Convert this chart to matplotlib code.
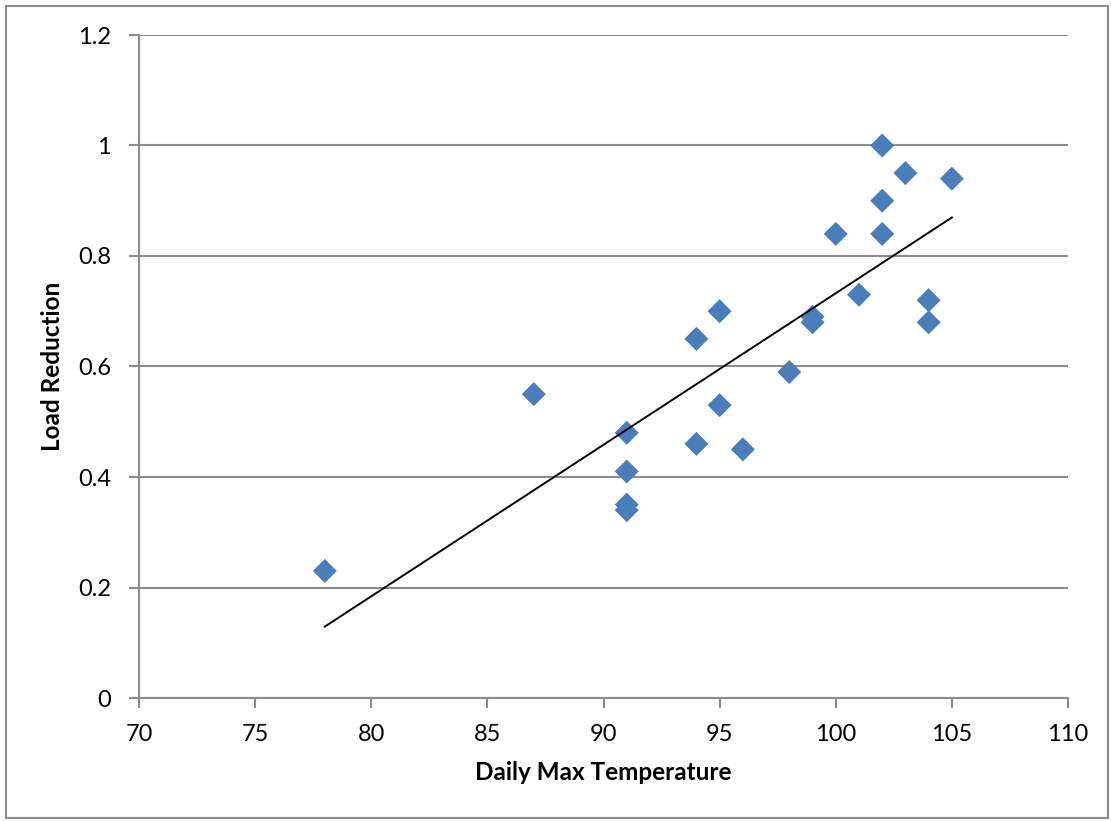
import numpy as np
import matplotlib
matplotlib.use("Agg")
import matplotlib.pyplot as plt
from matplotlib.patches import Rectangle

# values
temperature = [78, 87, 91, 91, 91, 91, 94, 94, 95, 95, 96, 98,
               99, 99, 100, 101, 102, 102, 102, 103, 104, 104, 105]
load_reduction = [0.23, 0.55, 0.48, 0.41, 0.35, 0.34, 0.65, 0.46, 0.70, 0.53, 0.45, 0.59,
                  0.69, 0.68, 0.84, 0.73, 1.00, 0.90, 0.84, 0.95, 0.72, 0.68, 0.94]
x_ticks = [70, 75, 80, 85, 90, 95, 100, 105, 110]
y_ticks = [0, 0.2, 0.4, 0.6, 0.8, 1, 1.2]
y_tick_labels = ["0", "0.2", "0.4", "0.6", "0.8", "1", "1.2"]

plt.rcParams['font.family'] = ['Lato', 'DejaVu Sans']
grid_grey = "#8c8c8c"

fig = plt.figure(figsize=(11.11, 8.21), dpi=100)
ax = fig.add_axes([139 / 1111, 1 - 698 / 821, (1068 - 139) / 1111, (698 - 35) / 821])

# outer chart border
fig.patches.append(Rectangle((6 / 1111, 3 / 821), 1102 / 1111, 812 / 821,
                             transform=fig.transFigure, fill=False,
                             edgecolor="#8c8c8c", linewidth=1.5))

ax.scatter(temperature, load_reduction, marker="D", s=150, color="#4a7ebb",
           edgecolors="none", zorder=3)

# linear trendline
slope, intercept = np.polyfit(temperature, load_reduction, 1)
tx = np.array([min(temperature), max(temperature)])
ax.plot(tx, slope * tx + intercept, color="black", linewidth=1.4, zorder=4)

ax.set_xlim(70, 110)
ax.set_ylim(0, 1.2)
ax.set_xticks(x_ticks)
ax.set_yticks(y_ticks)
ax.set_yticklabels(y_tick_labels)
ax.yaxis.grid(True, color=grid_grey, linewidth=1.5)
ax.set_axisbelow(True)

for side in ["top", "right"]:
    ax.spines[side].set_visible(False)
for side in ["left", "bottom"]:
    ax.spines[side].set_color(grid_grey)
    ax.spines[side].set_linewidth(1.5)

ax.tick_params(axis="both", colors=grid_grey, labelcolor="black", labelsize=17,
               length=7, width=1.5, direction="out")
ax.tick_params(axis="x", pad=12)
ax.tick_params(axis="y", pad=13)

ax.set_xlabel("Daily Max Temperature", fontsize=17.5, fontweight="bold", labelpad=11)
ax.set_ylabel("Load Reduction", fontsize=17.5, fontweight="bold", labelpad=10)

fig.savefig("out.png", dpi=100)
